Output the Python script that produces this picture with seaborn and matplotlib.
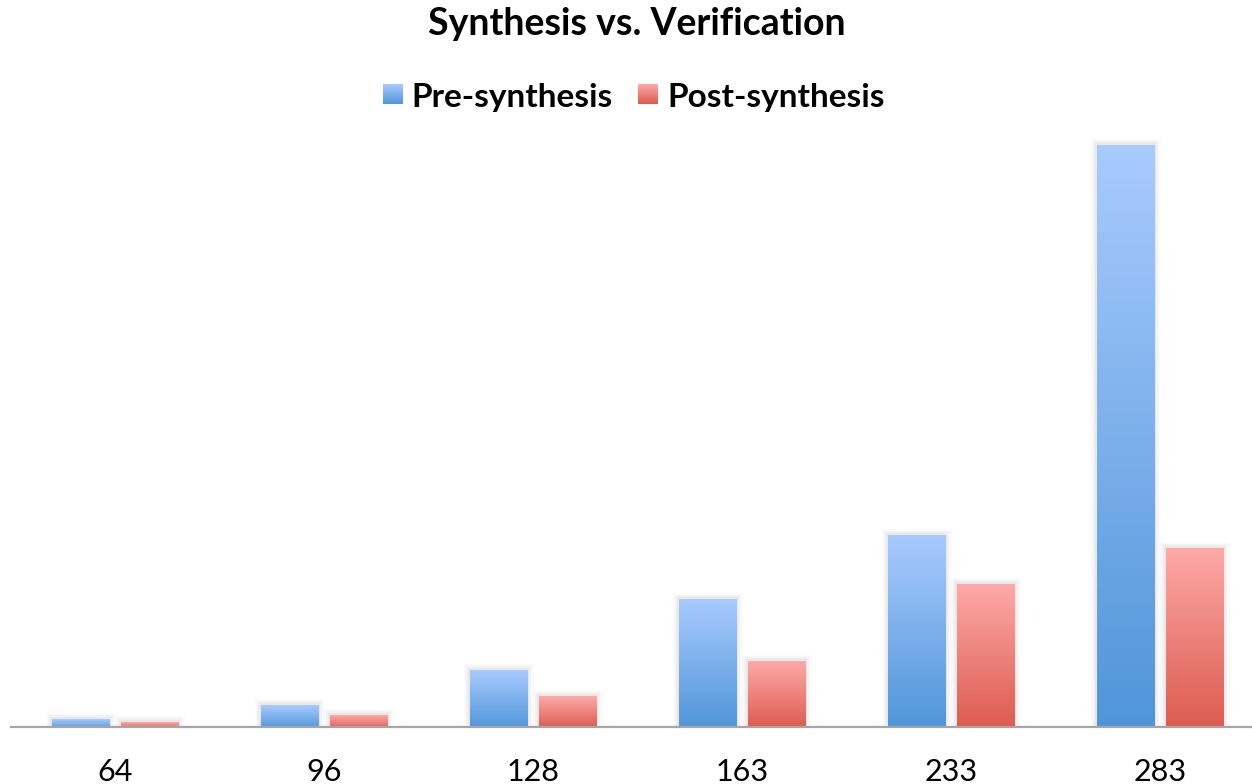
import numpy as np
import pandas as pd
import matplotlib
matplotlib.use("Agg")
import matplotlib.pyplot as plt
import matplotlib.patheffects as pe
from matplotlib.colors import to_rgb
import seaborn as sns

# Data
sizes = ["64", "96", "128", "163", "233", "283"]
pre_synthesis = [8, 22, 57, 128, 192, 582]
post_synthesis = [5, 12, 31, 66, 143, 179]
series_names = ["Pre-synthesis", "Post-synthesis"]

# Gradient colours (top, bottom) per series
gradients = {
    "Pre-synthesis": ("#a9cbfe", "#4f95d9"),
    "Post-synthesis": ("#feaaa8", "#dc5a4e"),
}

df = pd.DataFrame({
    "size": sizes * 2,
    "time": pre_synthesis + post_synthesis,
    "series": [series_names[0]] * len(sizes) + [series_names[1]] * len(sizes),
})

sns.set_theme(style="white")
FONT = ["Lato", "DejaVu Sans"]
plt.rcParams["font.family"] = FONT

W, H = 1252, 784
fig = plt.figure(figsize=(W / 100, H / 100), dpi=100)
ax = fig.add_axes([10.5 / W, (H - 727) / H, 1254 / W, 600 / H])

sns.barplot(data=df, x="size", y="time", hue="series", order=sizes,
            hue_order=series_names, width=0.66, gap=0.173,
            palette=[gradients[s][1] for s in series_names],
            legend=False, ax=ax)


def gradient_img(top, bottom, n=512):
    t = np.linspace(0, 1, n)[:, None]
    c0 = np.array(to_rgb(top))
    c1 = np.array(to_rgb(bottom))
    return (c0 * (1 - t) + c1 * t)[:, None, :]


ax.set_xlim(-0.5, len(sizes) - 0.5)
ax.set_ylim(0, 600)

# Soft shadow behind each bar, then a vertical gradient clipped to the bar
n = len(sizes)
for i, patch in enumerate(ax.patches):
    series = series_names[i // n]
    x0, y0 = patch.get_x(), patch.get_y()
    w, h = patch.get_width(), patch.get_height()
    patch.set_facecolor("none")
    patch.set_edgecolor("none")
    patch.set_path_effects([
        pe.Stroke(linewidth=9, foreground="black", alpha=0.02),
        pe.Stroke(linewidth=6, foreground="black", alpha=0.03),
        pe.Stroke(linewidth=3, foreground="black", alpha=0.04),
    ])
    mx, my = 0.02, 2.0
    img = ax.imshow(gradient_img(*gradients[series]),
                    extent=(x0 - mx, x0 + w + mx, y0 - my, y0 + h),
                    origin="upper", aspect="auto", zorder=2,
                    interpolation="nearest")
    img.set_clip_path(patch)

ax.set_xlim(-0.5, len(sizes) - 0.5)
ax.set_ylim(0, 600)
ax.set_xlabel("")
ax.set_ylabel("")
ax.set_yticks([])
for side in ["top", "right", "left"]:
    ax.spines[side].set_visible(False)
ax.spines["bottom"].set_color("#a6a6a6")
ax.spines["bottom"].set_linewidth(1.6)
ax.spines["bottom"].set_zorder(3)
ax.tick_params(axis="x", length=0, pad=22, labelsize=22, labelcolor="black")

# Title
fig.text(637 / W, 1 - 24 / H, "Synthesis vs. Verification", ha="center", va="center",
         fontsize=27, fontweight="bold", color="black")

# Legend with gradient swatches
legend_items = [(383, 411, series_names[0]), (638, 667, series_names[1])]
for sx, tx, name in legend_items:
    sax = fig.add_axes([sx / W, 1 - 104 / H, 20 / W, 20 / H])
    sax.imshow(gradient_img(*gradients[name]), aspect="auto", extent=(0, 1, 0, 1),
               origin="upper", interpolation="nearest")
    sax.set_axis_off()
    fig.text(tx / W, 1 - 98 / H, name, ha="left", va="center",
             fontsize=24, fontweight="bold", color="black")

fig.savefig("out.png", dpi=100, facecolor="white")
